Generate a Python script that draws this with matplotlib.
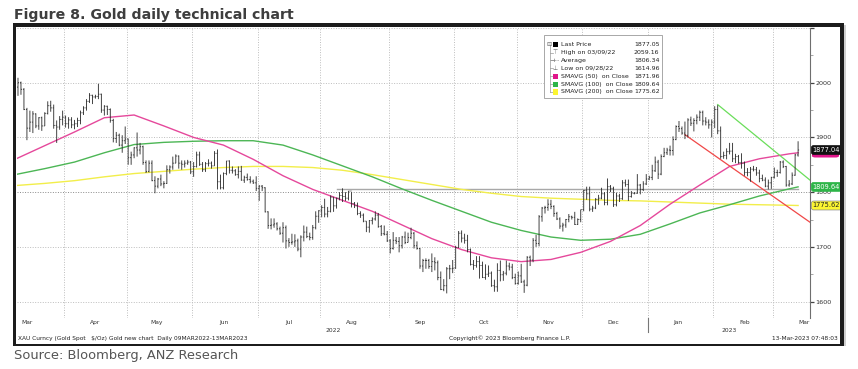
import numpy as np
import pandas as pd
import matplotlib
matplotlib.use("Agg")
import matplotlib.pyplot as plt
from matplotlib.collections import LineCollection
from matplotlib.patches import Rectangle, FancyBboxPatch
import matplotlib.transforms as mtransforms

# ---------------- data (XAU spot, daily, 09MAR2022 - 13MAR2023) ----------------
start_date = "2022-03-09"
end_date = "2023-03-13"
first_open = 2051.0

close = [
    # Mar 2022
    1992, 2000, 1988, 1951, 1917, 1928, 1943, 1921, 1936, 1921, 1944, 1958, 1954, 1922, 1919, 1933, 1937,
    # Apr
    1925, 1932, 1923, 1925, 1931, 1945, 1954, 1966, 1977, 1974, 1975, 1979, 1950, 1957, 1951, 1931, 1898, 1904, 1886, 1894, 1897,
    # May
    1863, 1868, 1881, 1877, 1883, 1854, 1838, 1853, 1821, 1811, 1824, 1815, 1816, 1841, 1846, 1853, 1866, 1853, 1851, 1853, 1855, 1837,
    # Jun
    1847, 1868, 1851, 1841, 1852, 1853, 1848, 1871, 1819, 1808, 1834, 1857, 1840, 1839, 1832, 1838, 1822, 1827, 1823, 1820, 1817, 1807,
    # Jul
    1811, 1808, 1764, 1739, 1740, 1742, 1733, 1725, 1735, 1711, 1708, 1709, 1711, 1696, 1718, 1727, 1719, 1717, 1735, 1756, 1766,
    # Aug
    1772, 1760, 1765, 1791, 1775, 1789, 1794, 1792, 1789, 1802, 1779, 1775, 1761, 1758, 1747, 1736, 1748, 1751, 1758, 1737, 1724, 1723, 1711,
    # Sep
    1697, 1712, 1710, 1702, 1718, 1708, 1717, 1725, 1702, 1697, 1665, 1675, 1675, 1664, 1673, 1671, 1644, 1622, 1629, 1660, 1660, 1661,
    # Oct
    1699, 1725, 1716, 1712, 1695, 1668, 1666, 1673, 1666, 1644, 1650, 1652, 1629, 1627, 1657, 1649, 1652, 1665, 1663, 1644, 1633,
    # Nov
    1647, 1636, 1630, 1681, 1676, 1712, 1706, 1755, 1771, 1772, 1778, 1774, 1761, 1751, 1738, 1740, 1750, 1755, 1754, 1741, 1750, 1768,
    # Dec
    1803, 1797, 1769, 1771, 1787, 1789, 1797, 1781, 1810, 1807, 1777, 1793, 1788, 1817, 1814, 1792, 1798, 1798, 1813, 1805, 1815, 1824,
    # Jan 2023
    1827, 1839, 1855, 1833, 1865, 1872, 1877, 1876, 1896, 1920, 1916, 1908, 1904, 1932, 1926, 1931, 1937, 1946, 1930, 1928, 1923, 1928,
    # Feb
    1951, 1912, 1865, 1867, 1874, 1875, 1861, 1865, 1854, 1853, 1836, 1836, 1842, 1841, 1835, 1825, 1822, 1811, 1817, 1827,
    # Mar 2023
    1836, 1836, 1855, 1847, 1813, 1815, 1831, 1868, 1877.05,
]
high = [
    2059, 2009, 2002, 1990, 1954, 1949, 1948, 1944, 1937, 1938, 1946, 1966, 1967, 1960, 1931, 1939, 1949,
    1940, 1937, 1937, 1932, 1936, 1949, 1957, 1970, 1981, 1978, 1978, 1998, 1980, 1959, 1958, 1953, 1934, 1910, 1907, 1904, 1920,
    1898, 1874, 1882, 1909, 1890, 1885, 1858, 1858, 1858, 1829, 1826, 1832, 1820, 1849, 1849, 1865, 1869, 1867, 1858, 1858, 1859, 1857,
    1855, 1874, 1874, 1855, 1855, 1860, 1856, 1875, 1878, 1832, 1836, 1857, 1858, 1847, 1842, 1847, 1848, 1830, 1834, 1829, 1823, 1829,
    1813, 1813, 1809, 1765, 1752, 1752, 1745, 1737, 1745, 1739, 1716, 1724, 1723, 1715, 1721, 1739, 1737, 1726, 1740, 1765, 1767,
    1776, 1788, 1773, 1794, 1791, 1790, 1800, 1807, 1800, 1802, 1800, 1782, 1781, 1765, 1761, 1747, 1749, 1754, 1765, 1762, 1740, 1739, 1729,
    1714, 1727, 1718, 1718, 1720, 1728, 1726, 1735, 1727, 1710, 1698, 1678, 1679, 1678, 1688, 1681, 1675, 1655, 1641, 1663, 1667, 1676,
    1702, 1729, 1730, 1724, 1722, 1697, 1676, 1683, 1683, 1673, 1668, 1666, 1655, 1640, 1670, 1675, 1656, 1675, 1671, 1669, 1651,
    1655, 1669, 1640, 1683, 1684, 1716, 1722, 1758, 1773, 1775, 1787, 1786, 1776, 1764, 1754, 1744, 1751, 1760, 1757, 1764, 1752, 1768,
    1804, 1810, 1810, 1775, 1789, 1795, 1808, 1800, 1825, 1813, 1810, 1799, 1797, 1822, 1823, 1823, 1802, 1800, 1833, 1815, 1820, 1833,
    1830, 1850, 1865, 1859, 1869, 1881, 1881, 1885, 1902, 1922, 1930, 1920, 1929, 1935, 1938, 1935, 1942, 1949, 1949, 1937, 1933, 1933,
    1957, 1959, 1920, 1874, 1880, 1890, 1890, 1870, 1868, 1871, 1856, 1844, 1846, 1848, 1846, 1841, 1832, 1827, 1823, 1828,
    1845, 1841, 1857, 1858, 1848, 1822, 1836, 1870, 1893,
]
low = [
    1985, 1976, 1978, 1950, 1895, 1910, 1908, 1917, 1914, 1912, 1921, 1942, 1947, 1916, 1890, 1914, 1922,
    1918, 1916, 1917, 1915, 1919, 1924, 1941, 1949, 1963, 1961, 1971, 1970, 1945, 1940, 1941, 1927, 1891, 1890, 1884, 1872, 1888,
    1850, 1850, 1862, 1865, 1869, 1850, 1835, 1836, 1820, 1798, 1807, 1811, 1807, 1815, 1834, 1841, 1853, 1843, 1841, 1845, 1850, 1833,
    1828, 1845, 1848, 1837, 1837, 1847, 1843, 1848, 1805, 1805, 1805, 1831, 1834, 1834, 1830, 1825, 1821, 1817, 1821, 1816, 1815, 1802,
    1784, 1802, 1763, 1733, 1732, 1735, 1730, 1722, 1708, 1697, 1700, 1704, 1700, 1692, 1681, 1710, 1716, 1712, 1713, 1732, 1744,
    1754, 1754, 1754, 1763, 1764, 1770, 1785, 1782, 1784, 1785, 1772, 1771, 1758, 1753, 1745, 1727, 1726, 1741, 1748, 1735, 1720, 1721, 1709,
    1688, 1695, 1705, 1690, 1697, 1705, 1708, 1714, 1697, 1695, 1660, 1654, 1660, 1660, 1654, 1657, 1639, 1621, 1619, 1615, 1641, 1652,
    1660, 1698, 1708, 1706, 1690, 1666, 1658, 1662, 1642, 1643, 1640, 1645, 1627, 1618, 1618, 1637, 1638, 1648, 1657, 1641, 1631,
    1631, 1634, 1616, 1628, 1665, 1672, 1700, 1701, 1746, 1761, 1766, 1769, 1755, 1749, 1733, 1728, 1735, 1745, 1750, 1740, 1740, 1745,
    1765, 1786, 1765, 1764, 1769, 1777, 1787, 1776, 1776, 1800, 1773, 1774, 1782, 1786, 1810, 1784, 1790, 1796, 1797, 1796, 1802, 1813,
    1822, 1822, 1837, 1824, 1831, 1864, 1868, 1867, 1867, 1895, 1910, 1905, 1897, 1900, 1921, 1911, 1924, 1930, 1922, 1922, 1916, 1900,
    1917, 1906, 1861, 1861, 1860, 1869, 1855, 1853, 1852, 1843, 1830, 1829, 1819, 1838, 1830, 1818, 1820, 1809, 1805, 1806,
    1825, 1828, 1834, 1844, 1810, 1810, 1813, 1830, 1865,
]

# moving averages at sample dates
ma_dates = ["2022-03-09", "2022-03-23", "2022-04-06", "2022-04-20", "2022-05-04", "2022-05-18",
            "2022-06-01", "2022-06-15", "2022-06-29", "2022-07-13", "2022-07-27", "2022-08-10",
            "2022-08-24", "2022-09-07", "2022-09-21", "2022-10-05", "2022-10-19", "2022-11-02",
            "2022-11-16", "2022-11-30", "2022-12-14", "2022-12-28", "2023-01-11", "2023-01-25",
            "2023-02-08", "2023-02-22", "2023-03-08", "2023-03-13"]
sma50 = [1860, 1885, 1910, 1936, 1941, 1921, 1900, 1886, 1860, 1830, 1805, 1785, 1765, 1740,
         1715, 1695, 1680, 1673, 1677, 1690, 1710, 1739, 1778, 1813, 1847, 1861, 1870, 1871.96]
sma100 = [1832, 1843, 1855, 1872, 1887, 1891, 1893, 1894, 1894, 1886, 1868, 1848, 1828, 1806,
          1785, 1765, 1745, 1730, 1718, 1712, 1714, 1723, 1742, 1762, 1777, 1793, 1806, 1809.64]
sma200 = [1812, 1816, 1821, 1828, 1834, 1838, 1842, 1845, 1847, 1847, 1845, 1840, 1832, 1823,
          1814, 1805, 1798, 1792, 1789, 1787, 1785, 1784, 1782, 1780, 1778, 1777, 1776, 1775.62]

average_price = 1806.34
average_from = "2022-08-08"

# trend lines (start date, value) -> (end date, value)
red_trend = [("2023-01-18", 1905), ("2023-03-17", 1745)]
green_trend = [("2023-02-02", 1960), ("2023-03-17", 1822)]

legend_rows = ["Last Price", "High on 03/09/22", "Average", "Low on 09/28/22",
               "SMAVG (50)  on Close", "SMAVG (100)  on Close", "SMAVG (200)  on Close"]
legend_vals = ["1877.05", "2059.16", "1806.34", "1614.96", "1871.96", "1809.64", "1775.62"]

yticks_major = [1600, 1700, 1800, 1900, 2000, 2100]
ytick_labels = ["1600", "1700", "1800", "1900", "2000", ""]

# ---------------- helpers ----------------
W, H = 858, 369
dates = pd.bdate_range(start_date, end_date)
ext_dates = pd.bdate_range(start_date, "2023-04-28")
n = len(dates)
ext_num = ext_dates.values.astype("datetime64[D]").astype(float)


def tpos(d):
    """position of a calendar date on the trading-day axis"""
    v = np.datetime64(pd.Timestamp(d).date(), "D").astype(float)
    return float(np.interp(v, ext_num, np.arange(len(ext_dates))))


def fx(x):
    return x / W


def fy(y):
    return 1 - y / H


opens = [first_open] + close[:-1]

fig = plt.figure(figsize=(W / 100, H / 100), dpi=100)
fig.patch.set_facecolor("white")

ax_l, ax_r, ax_t, ax_b = 16.5, 810, 28, 318
ax = fig.add_axes([fx(ax_l), fy(ax_b), fx(ax_r - ax_l), (ax_b - ax_t) / H])
ax.set_facecolor("white")
x0, x1 = 0.5, 267.0
ax.set_xlim(x0, x1)
ax.set_ylim(1570, 2100)

# grid
for v in yticks_major:
    col = "#8a8a8a" if v == 1800 else "#bdbdbd"
    ax.axhline(v, color=col, lw=0.7, ls=(0, (1, 1.6)), zorder=1)
month_starts = []
prev_m = None
for i, d in enumerate(dates):
    if prev_m is not None and d.month != prev_m:
        month_starts.append(i)
    prev_m = d.month
for i in month_starts:
    ax.axvline(i - 0.5, color="#bdbdbd", lw=0.7, ls=(0, (1, 1.6)), zorder=1)

# average line
ax.plot([tpos(average_from), len(dates) - 1], [average_price, average_price], color="#a8a8a8", lw=1.0, zorder=2)

# moving averages
ma_x = [tpos(d) for d in ma_dates]
ax.plot(ma_x, sma200, color="#f2ee4a", lw=1.0, zorder=3)
ax.plot(ma_x, sma100, color="#4cb655", lw=1.0, zorder=3)
ax.plot(ma_x, sma50, color="#e5489b", lw=1.0, zorder=3)

# trend lines
ax.plot([tpos(red_trend[0][0]), tpos(red_trend[1][0])], [red_trend[0][1], red_trend[1][1]],
        color="#f04848", lw=0.9, zorder=3)
ax.plot([tpos(green_trend[0][0]), tpos(green_trend[1][0])], [green_trend[0][1], green_trend[1][1]],
        color="#6ade5a", lw=0.9, zorder=3)

# OHLC bars
segs = []
for i in range(n):
    segs.append([(i, low[i]), (i, high[i])])
    segs.append([(i - 0.34, opens[i]), (i, opens[i])])
    segs.append([(i, close[i]), (i + 0.34, close[i])])
lc = LineCollection(segs, colors="#2a2a2a", linewidths=0.62, zorder=4, snap=False)
ax.add_collection(lc)

# axis styling
for s in ["left", "top", "bottom"]:
    ax.spines[s].set_visible(False)
ax.spines["right"].set_color("#6e6e6e")
ax.spines["right"].set_linewidth(0.8)
ax.yaxis.tick_right()
ax.set_yticks(yticks_major)
ax.set_yticklabels(ytick_labels)
ax.set_yticks([1650, 1750, 1850, 1950, 2050], minor=True)
ax.tick_params(axis="y", which="major", direction="out", length=3, width=0.9, color="#444",
               labelsize=4.6, labelcolor="#333", pad=1)
ax.tick_params(axis="y", which="minor", direction="out", length=2, width=0.6, color="#999")
ax.set_xticks([])

# month labels
trans_x = mtransforms.blended_transform_factory(ax.transData, fig.transFigure)
months = pd.date_range("2022-03-01", "2023-03-01", freq="MS")
for m in months:
    ax.text(tpos(m + pd.Timedelta(days=14)), fy(322.5), m.strftime("%b"), transform=trans_x,
            ha="center", va="center", fontsize=4.3, color="#333", clip_on=False)
jan_pos = month_starts[9] - 0.5
ax.text((x0 + jan_pos) / 2 + 0.5, fy(330.5), "2022", transform=trans_x, ha="center", va="center",
        fontsize=4.3, color="#333", clip_on=False)
ax.text((jan_pos + x1) / 2, fy(330.5), "2023", transform=trans_x, ha="center", va="center",
        fontsize=4.3, color="#333", clip_on=False)
ax.plot([jan_pos, jan_pos], [fy(318), fy(332)], transform=trans_x, color="#777", lw=0.8, clip_on=False)

# right value labels
trans_y = mtransforms.blended_transform_factory(ax.transAxes, ax.transData)
lab_x = 1.0035


def value_label(v, text, fc, tc, ec):
    ax.text(lab_x, v, text, transform=trans_y, ha="left", va="center", fontsize=4.8, color=tc,
            clip_on=False, zorder=10,
            bbox=dict(boxstyle="round,pad=0.22,rounding_size=0.35", fc=fc, ec=ec, lw=0.5))


# SMAVG(50) tag sits behind the last-price tag: only its lower edge shows
ax.add_patch(FancyBboxPatch((fx(812), fy(157.5)), fx(27), 7.5 / H, transform=fig.transFigure,
                            boxstyle="round,pad=0,rounding_size=0.004", fc="#e0158a", ec="none",
                            zorder=9, clip_on=False))
value_label(1877.04, "1877.04", "#111111", "white", "#111111")
value_label(1809.64, legend_vals[5], "#2db548", "white", "#2db548")
value_label(1775.62, legend_vals[6], "#fbf531", "#222", "#888")

# legend box
lx0, lx1, ly0, ly1 = 544, 662, 35, 98
fig.add_artist(Rectangle((fx(lx0), fy(ly1)), fx(lx1 - lx0), (ly1 - ly0) / H, transform=fig.transFigure,
                         fc="white", ec="#9a9a9a", lw=0.6, zorder=5))
row_y = [44.7 + 7.88 * k for k in range(7)]
fig.add_artist(plt.Line2D([fx(549.5), fx(549.5)], [fy(row_y[0]), fy(row_y[-1])], color="#999",
                          lw=0.5, zorder=6))
fig.text(fx(549.5), fy(row_y[0]), "\u229f", fontsize=4.5, color="#666", ha="center", va="center", zorder=7)
marker_cols = ["#000000", None, None, None, "#e0158a", "#2db548", "#fbf531"]
glyphs = [None, "\u22a4", "-+-", "\u22a5", None, None, None]
for k in range(7):
    y = row_y[k]
    if k > 0:
        fig.add_artist(plt.Line2D([fx(549.5), fx(552.5)], [fy(y), fy(y)], color="#999", lw=0.5, zorder=6))
    if marker_cols[k]:
        fig.add_artist(Rectangle((fx(553), fy(y + 2.6)), fx(5), 5.2 / H, transform=fig.transFigure,
                                 fc=marker_cols[k], ec="none", zorder=7))
    else:
        fig.text(fx(555.5), fy(y), glyphs[k], fontsize=4.2, color="#666", ha="center", va="center", zorder=7)
    fig.text(fx(561), fy(y), legend_rows[k], fontsize=4.5, color="#222", ha="left", va="center", zorder=7)
    fig.text(fx(659.5), fy(y), legend_vals[k], fontsize=4.5, color="#222", ha="right", va="center", zorder=7)

# frame
frame_col = "#1c1c1c"
for (x_a, y_a, x_b, y_b, c) in [(13, 23.3, 843.5, 27, frame_col), (13, 23.3, 16.3, 345.5, frame_col),
                                (839.5, 23.3, 843.5, 345.5, frame_col), (13, 343.6, 843.5, 345.5, frame_col),
                                (843.5, 24.5, 845.5, 346, "#cfcfcf")]:
    fig.add_artist(Rectangle((fx(x_a), fy(y_b)), fx(x_b - x_a), (y_b - y_a) / H, transform=fig.transFigure,
                             fc=c, ec="none", zorder=8))

# footer inside frame
fig.text(fx(17.5), fy(338.5), "XAU Curncy (Gold Spot   $/Oz) Gold new chart  Daily 09MAR2022-13MAR2023",
         fontsize=4.2, color="#222", ha="left", va="center")
fig.text(fx(510), fy(338.5), "Copyright\u00a9 2023 Bloomberg Finance L.P.", fontsize=4.2, color="#222",
         ha="center", va="center")
fig.text(fx(837.5), fy(338.5), "13-Mar-2023 07:48:03", fontsize=4.2, color="#222", ha="right", va="center")

# title and source
fig.text(fx(14), fy(19.5), "Figure 8. Gold daily technical chart", fontsize=10.2, fontweight="bold",
         color="#3e3e3e", ha="left", va="baseline")
fig.text(fx(13.5), fy(359), "Source: Bloomberg, ANZ Research", fontsize=9.35, color="#555555",
         ha="left", va="baseline")

fig.savefig("out.png", dpi=100)
